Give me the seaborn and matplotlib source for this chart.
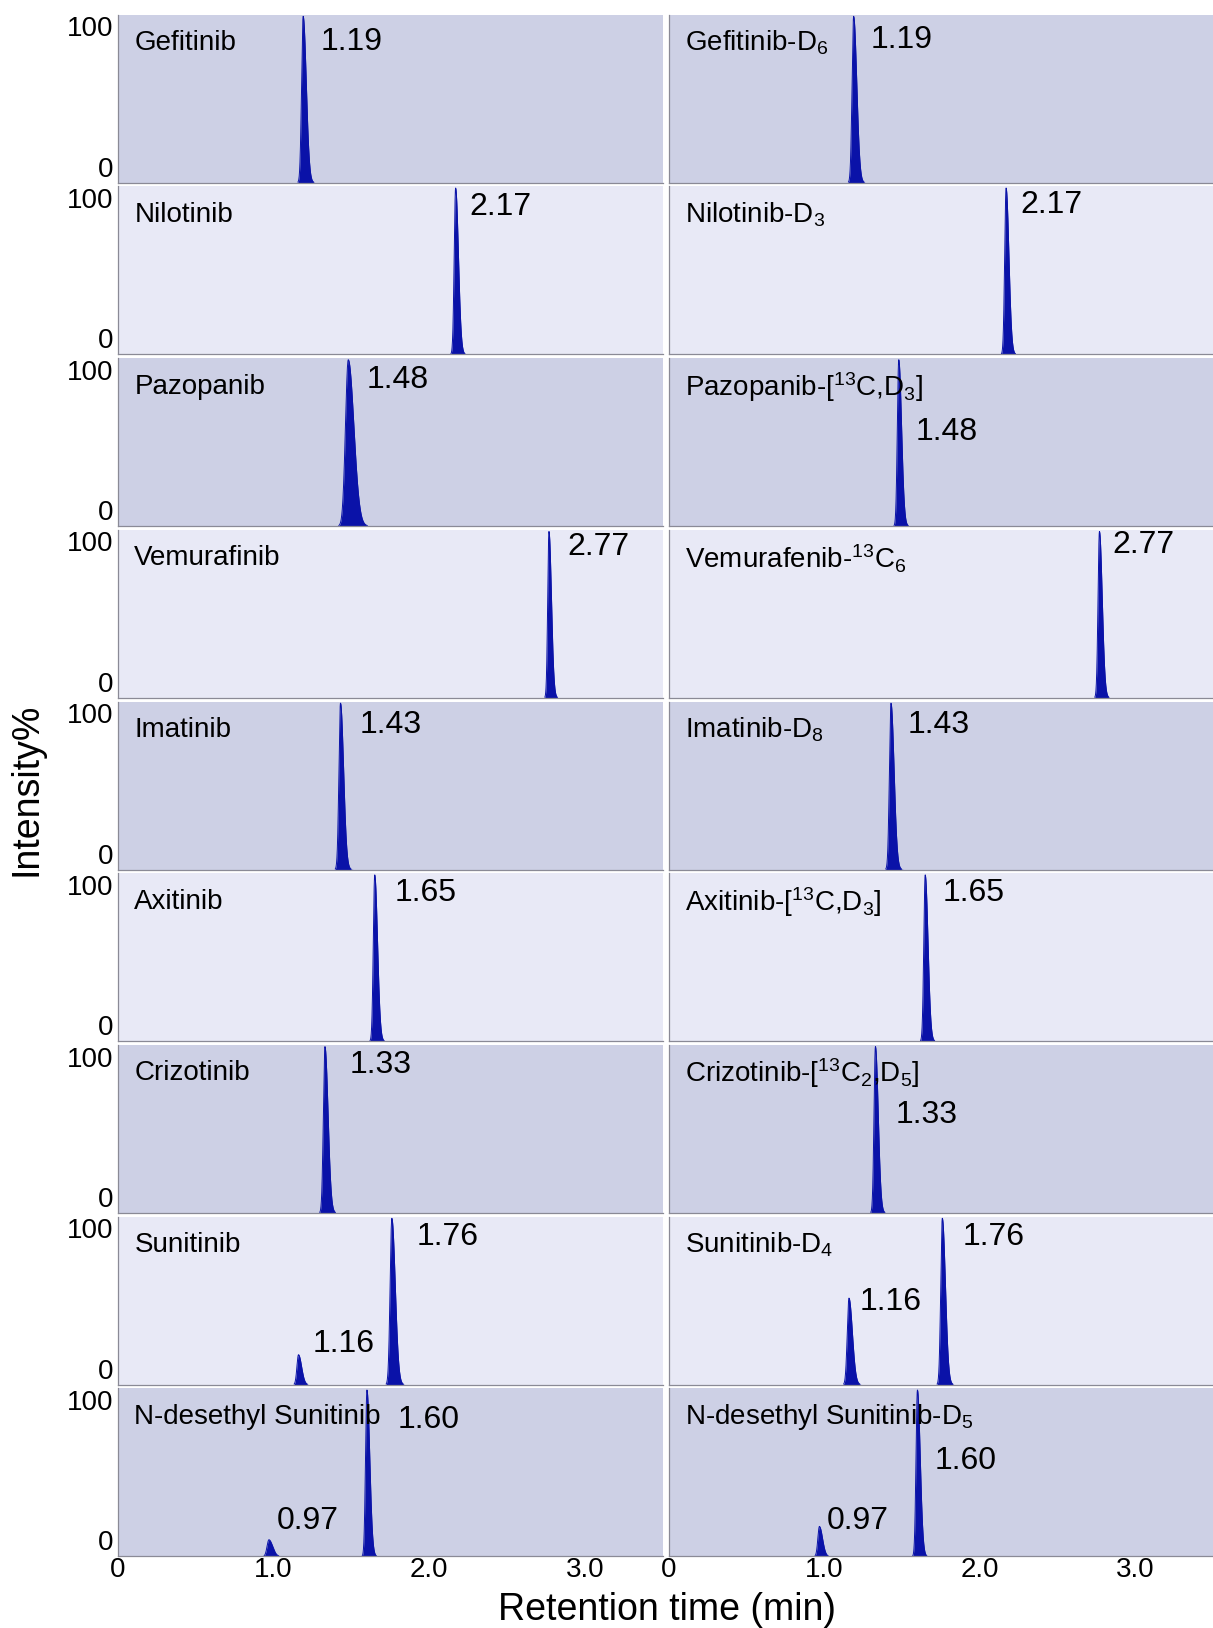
import numpy as np
import pandas as pd
import matplotlib
matplotlib.use("Agg")
import matplotlib.pyplot as plt
import seaborn as sns

# ---------------- data ----------------
left_names = ["Gefitinib", "Nilotinib", "Pazopanib", "Vemurafinib", "Imatinib",
              "Axitinib", "Crizotinib", "Sunitinib", "N-desethyl Sunitinib"]
right_names = ["Gefitinib-D$_6$", "Nilotinib-D$_3$", "Pazopanib-[$^{13}$C,D$_3$]",
               "Vemurafenib-$^{13}$C$_6$", "Imatinib-D$_8$", "Axitinib-[$^{13}$C,D$_3$]",
               "Crizotinib-[$^{13}$C$_2$,D$_5$]", "Sunitinib-D$_4$",
               "N-desethyl Sunitinib-D$_5$"]

# peak retention times (min), labelled values
left_rt = [[1.19], [2.17], [1.48], [2.77], [1.43], [1.65], [1.33], [1.76, 1.16], [1.60, 0.97]]
right_rt = [[1.19], [2.17], [1.48], [2.77], [1.43], [1.65], [1.33], [1.76, 1.16], [1.60, 0.97]]
# relative intensities (%)
left_height = [[100], [100], [100], [100], [100], [100], [100], [100, 18], [100, 10]]
right_height = [[100], [100], [100], [100], [100], [100], [100], [100, 52], [100, 18]]
# peak widths (sigma, min)
left_width = [[0.010], [0.009], [0.018], [0.008], [0.010], [0.009], [0.010], [0.011, 0.010], [0.009, 0.012]]
right_width = [[0.010], [0.009], [0.009], [0.009], [0.010], [0.009], [0.009], [0.010, 0.011], [0.009, 0.010]]

x_ticks = [0, 1.0, 2.0, 3.0]
x_ticklabels = ["0", "1.0", "2.0", "3.0"]
y_ticks = [0, 100]
y_ticklabels = ["0", "100"]

# label placement (offset in min from peak, height as axes fraction)
left_lab = [[(0.11, 0.84)], [(0.09, 0.88)], [(0.12, 0.87)], [(0.12, 0.90)], [(0.12, 0.86)],
            [(0.13, 0.88)], [(0.16, 0.88)], [(0.16, 0.88), (0.09, 0.24)], [(0.20, 0.81), (0.05, 0.21)]]
right_lab = [[(0.11, 0.85)], [(0.09, 0.89)], [(0.11, 0.56)], [(0.08, 0.91)], [(0.11, 0.86)],
             [(0.11, 0.88)], [(0.13, 0.58)], [(0.13, 0.88), (0.07, 0.49)], [(0.11, 0.57), (0.05, 0.21)]]

# ---------------- style ----------------
sns.set_theme(style="white")
plt.rcParams["font.family"] = ["Liberation Sans", "DejaVu Sans"]
plt.rcParams["mathtext.fontset"] = "custom"
plt.rcParams["mathtext.rm"] = "Liberation Sans"
plt.rcParams["mathtext.it"] = "Liberation Sans"
plt.rcParams["mathtext.default"] = "regular"
plt.rcParams["text.color"] = "black"
plt.rcParams["xtick.color"] = "black"
plt.rcParams["ytick.color"] = "black"

dark_bg = "#cdd0e5"
light_bg = "#e8e9f6"
peak_col = "#0a12a8"
spine_col = "#8a8a96"

fig = plt.figure(figsize=(12.13, 16.28), dpi=100)
gs = fig.add_gridspec(9, 2, left=0.0973, right=1.0, top=0.991, bottom=0.044,
                      hspace=0.022, wspace=0.011)

xgrid = np.linspace(0, 3.5, 7001)


def one_peak(rt, h, w):
    d = xgrid - rt
    s = np.where(d < 0, w, w * 2.0)
    return h * np.exp(-0.5 * (d / s) ** 2)


def draw(ax, name, rts, hs, ws, labs, bg, first_col, last_row):
    ax.set_facecolor(bg)
    total = np.zeros_like(xgrid)
    for rt, h, w in zip(rts, hs, ws):
        y = one_peak(rt, h, w)
        total = total + y
        m = y > 0.3
        df = pd.DataFrame({"t": xgrid[m], "i": y[m]})
        sns.lineplot(data=df, x="t", y="i", ax=ax, color=peak_col, lw=0.7)
    ax.fill_between(xgrid, 0, total, color=peak_col, lw=0)
    ax.set_xlim(0, 3.5)
    ax.set_ylim(0, 101)
    ax.set_xlabel("")
    ax.set_ylabel("")
    for sp in ["top", "right"]:
        ax.spines[sp].set_visible(False)
    for sp in ["left", "bottom"]:
        ax.spines[sp].set_color(spine_col)
        ax.spines[sp].set_linewidth(0.9)
    ax.set_xticks(x_ticks)
    ax.set_xticks(np.arange(0, 3.51, 0.1), minor=True)
    ax.tick_params(axis="x", which="minor", length=2, color=spine_col, direction="in", width=0.6)
    ax.tick_params(axis="x", which="major", length=3, color=spine_col, direction="in", width=0.6)
    if last_row:
        ax.set_xticklabels(x_ticklabels, fontsize=20)
        ax.tick_params(axis="x", pad=0.5)
    else:
        ax.set_xticklabels([])
    ax.set_yticks(y_ticks)
    ax.tick_params(axis="y", length=0, pad=3)
    if first_col:
        ax.set_yticklabels(y_ticklabels, fontsize=20)
        tl = ax.get_yticklabels()
        tl[0].set_va("bottom")
        tl[1].set_va("top")
    else:
        ax.set_yticklabels([])
    ax.text(0.03, 0.83, name, transform=ax.transAxes, fontsize=20, va="center", ha="left")
    for rt, (dx, fy) in zip(rts, labs):
        ax.text(rt + dx, fy, f"{rt:.2f}", transform=ax.get_xaxis_transform(),
                fontsize=23, va="center", ha="left")


for r in range(9):
    bg = dark_bg if r % 2 == 0 else light_bg
    axl = fig.add_subplot(gs[r, 0])
    draw(axl, left_names[r], left_rt[r], left_height[r], left_width[r], left_lab[r], bg, True, r == 8)
    axr = fig.add_subplot(gs[r, 1])
    draw(axr, right_names[r], right_rt[r], right_height[r], right_width[r], right_lab[r], bg, False, r == 8)

fig.text(0.022, 0.515, "Intensity%", rotation=90, fontsize=27, ha="center", va="center")
fig.text(0.55, 0.0, "Retention time (min)", fontsize=27, ha="center", va="bottom")

fig.savefig("out.png", dpi=100)
